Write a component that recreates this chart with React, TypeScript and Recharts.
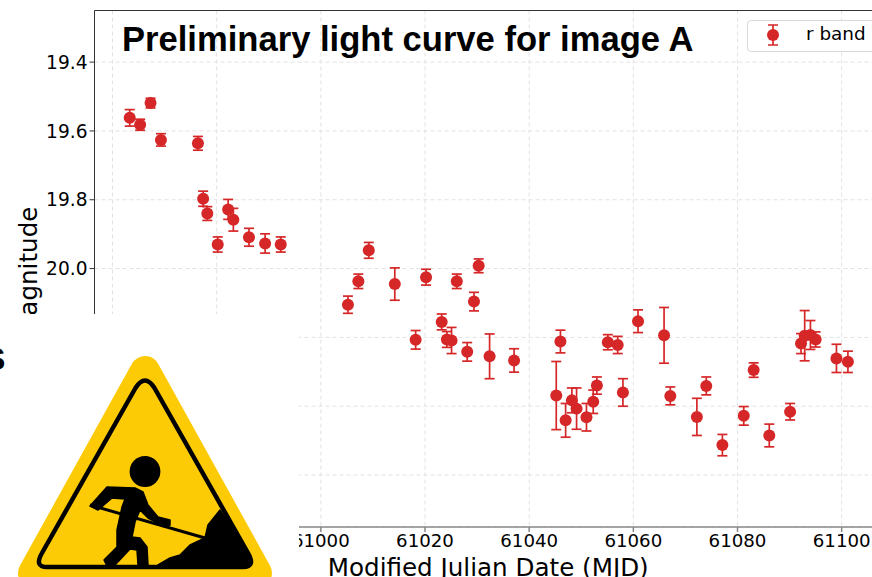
import { CartesianGrid, ErrorBar, Scatter, ScatterChart, XAxis, YAxis } from "recharts";

const mjd = [
  60963.3, 60965.3, 60967.3, 60969.3, 60976.4, 60977.4, 60978.2, 60980.2, 60982.2, 60983.2, 60986.2,
  60989.3, 60992.3, 61005.2, 61007.2, 61009.2, 61014.2, 61018.2, 61020.2, 61023.2, 61024.2, 61025.1,
  61026.1, 61028.1, 61029.4, 61030.3, 61032.4, 61037.1, 61045.2, 61046, 61047, 61048.2, 61049.1,
  61051, 61052.3, 61053, 61055.1, 61057, 61058, 61060.9, 61065.9, 61067.1, 61072.2, 61074, 61077.1,
  61081.2, 61083.1, 61086.1, 61090.1, 61092.2, 61092.9, 61094, 61095, 61099, 61101.2,
];
const magnitude = [
  19.562, 19.582, 19.519, 19.626, 19.636, 19.797, 19.84, 19.93, 19.828, 19.858, 19.909,
  19.927, 19.93, 20.105, 20.037, 19.947, 20.045, 20.207, 20.025, 20.155, 20.206, 20.209,
  20.037, 20.242, 20.096, 19.992, 20.255, 20.267, 20.369, 20.212, 20.441, 20.383, 20.407,
  20.432, 20.387, 20.34, 20.214, 20.222, 20.36, 20.153, 20.194, 20.37, 20.431, 20.341, 20.513,
  20.428, 20.295, 20.485, 20.416, 20.218, 20.195, 20.193, 20.206, 20.261, 20.271,
];
const magnitudeError = [
  0.024, 0.016, 0.014, 0.018, 0.02, 0.022, 0.02, 0.022, 0.029, 0.033, 0.026,
  0.028, 0.022, 0.025, 0.021, 0.023, 0.047, 0.027, 0.023, 0.023, 0.023, 0.038,
  0.021, 0.027, 0.027, 0.02, 0.065, 0.034, 0.099, 0.033, 0.049, 0.036, 0.06,
  0.04, 0.034, 0.025, 0.022, 0.025, 0.04, 0.033, 0.081, 0.026, 0.054, 0.026, 0.031,
  0.027, 0.021, 0.033, 0.024, 0.029, 0.073, 0.042, 0.022, 0.041, 0.031,
];
const xTicks = [60960, 60980, 61000, 61020, 61040, 61060, 61080, 61100];
const yTicks = [19.4, 19.6, 19.8, 20.0, 20.2, 20.4, 20.6];

const rows = mjd.map((date, i) => ({ date, mag: magnitude[i], err: magnitudeError[i] }));

const RED = "#d62728";
const SANS = "'DejaVu Sans', sans-serif";
const YELLOW = "#fdcb05";

function Dot({ cx, cy }: { cx?: number; cy?: number }) {
  return <circle cx={cx} cy={cy} r={6} fill={RED} />;
}

function BandLegend() {
  return (
    <div
      style={{
        position: "absolute",
        left: 747,
        top: 20,
        width: 160,
        height: 32,
        boxSizing: "border-box",
        border: "1px solid #d9d9d9",
        borderRadius: 4,
        background: "rgba(255,255,255,0.85)",
        fontFamily: SANS,
        fontSize: 18.4,
        color: "#000",
      }}
    >
      <svg width={40} height={30} style={{ position: "absolute", left: 0, top: 0 }}>
        <path d="M25 4V24M20 4H30M20 24H30" stroke={RED} strokeWidth={1.7} fill="none" />
        <circle cx={25} cy={14} r={6} fill={RED} />
      </svg>
      <span style={{ position: "absolute", left: 58, top: 2 }}>r band</span>
    </div>
  );
}

function WorkSign() {
  return (
    <svg width={299} height={263} viewBox="0 314 299 263" style={{ position: "absolute", left: 0, top: 0 }}>
      <path d="M145 371 L33 573 L257 573 Z" fill={YELLOW} stroke={YELLOW} strokeWidth={30} strokeLinejoin="round" />
      <path
        d="M135.5 388 Q145 373 154.5 388 L248 553 Q256 567 243 567 L47 567 Q34 567 42 553 Z"
        fill={YELLOW}
        stroke="#000"
        strokeWidth={4.5}
        strokeLinejoin="round"
      />
      <circle cx={145} cy={471.5} r={15.4} fill="#000" />
      <g fill="#000" stroke="#000" strokeWidth={1.5} strokeLinejoin="round">
        <path d="M107 487 L135 488 L143 492 L148 505 L158 517 L170 520 L170 525 L165 527 L148 518 L140 510 L135 522 L132 537 L140 538 L147 547 L148 565 L138 565 L137 550 L130 549 L115 565 L107 566 L104 560 L117 547 L117 530 L122 507 L125 499 L112 498 L98 510 L90 506 Z" />
        <path d="M158 565 L170 558 L180 555 L190 545 L205 538 L208 525 L220 510 L248 553 Q254 566 243 566 Z" />
      </g>
      <path d="M90 505 L205 538" stroke="#000" strokeWidth={3} />
    </svg>
  );
}

export default function App() {
  return (
    <div style={{ position: "absolute", left: 0, top: 0, width: 872, height: 577, overflow: "hidden", background: "#fff" }}>
      <ScatterChart
        width={900}
        height={577}
        margin={{ top: 10.5, right: 0, bottom: 0, left: 0 }}
      >
        <CartesianGrid stroke="#e2e2e2" strokeDasharray="4 3" />
        <XAxis
          type="number"
          dataKey="date"
          domain={[60956.54, 61111.2]}
          ticks={xTicks}
          interval={0}
          allowDataOverflow
          height={50}
          tick={{ fontSize: 18.2, fontFamily: SANS, fill: "#000" }}
          tickSize={5}
          stroke="#888"
          strokeWidth={1.5}
          label={{ value: "Modified Julian Date (MJD)", position: "insideBottom", offset: 1, dx: -9, fontSize: 24.6, fontFamily: SANS, fill: "#000" }}
        />
        <YAxis
          type="number"
          dataKey="mag"
          reversed
          domain={[19.25, 20.751]}
          ticks={yTicks}
          interval={0}
          allowDataOverflow
          width={94.5}
          tick={{ fontSize: 18.6, fontFamily: SANS, fill: "#000" }}
          tickFormatter={(v: number) => v.toFixed(1)}
          tickSize={5}
          stroke="#333"
          label={{ value: "Magnitude", angle: -90, position: "insideLeft", offset: 28, dy: 3, textAnchor: "middle", fontSize: 24.6, fontFamily: SANS, fill: "#000" }}
        />
        <Scatter data={rows} fill={RED} shape={<Dot />} isAnimationActive={false}>
          <ErrorBar dataKey="err" direction="y" width={5} stroke={RED} strokeWidth={1.7} isAnimationActive={false} />
        </Scatter>
        <line x1={94.5} y1={10.5} x2={900} y2={10.5} stroke="#333" />
      </ScatterChart>
      <BandLegend />
      <div style={{ position: "absolute", left: 122, top: 20, fontFamily: "'Liberation Sans', Arial, sans-serif", fontWeight: 700, fontSize: 34.6, color: "#000", whiteSpace: "nowrap" }}>
        Preliminary light curve for image A
      </div>
      <div style={{ position: "absolute", left: 0, top: 314, width: 299, height: 263, background: "#fff", overflow: "hidden" }}>
        <div style={{ position: "absolute", left: -16, top: 27, fontFamily: "'Liberation Sans', Arial, sans-serif", fontWeight: 700, fontSize: 32, color: "#000" }}>S</div>
        <WorkSign />
      </div>
    </div>
  );
}
